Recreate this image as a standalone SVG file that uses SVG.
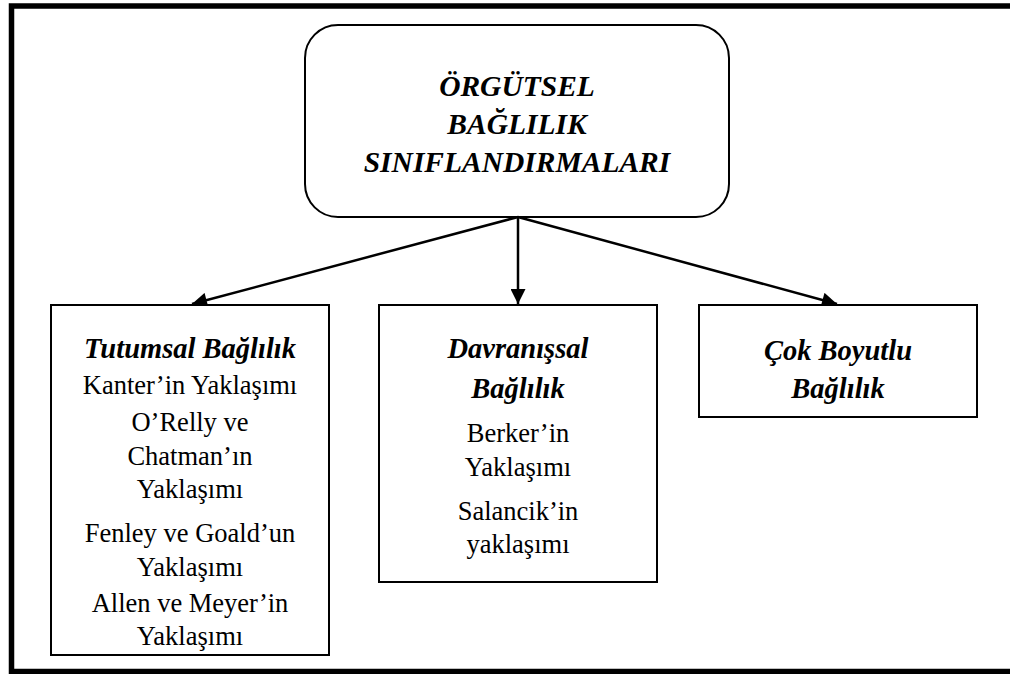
<svg xmlns="http://www.w3.org/2000/svg" width="1010" height="674" viewBox="0 0 1010 674">
<style>
.box{fill:#fff;stroke:#000;stroke-width:2}
.h{font-family:"Liberation Serif","Times New Roman",serif;font-weight:bold;font-style:italic;text-anchor:middle;fill:#000}
.t{font-family:"Liberation Serif","Times New Roman",serif;font-size:26.5px;text-anchor:middle;fill:#000}
.c{stroke:#000;stroke-width:2.5;fill:none}
</style>
<defs>
<marker id="ah" viewBox="0 0 10 10" refX="10" refY="5" markerWidth="7" markerHeight="6" markerUnits="strokeWidth" orient="auto">
<path d="M0 0 L10 5 L0 10 Z" fill="#000"/>
</marker>
</defs>
<rect x="0" y="0" width="1010" height="674" fill="#fff"/>
<path d="M1015 6 H11.5 V671.5 H1015" fill="none" stroke="#000" stroke-width="5.5"/>
<g id="root">
<rect class="box" x="305" y="25" width="424" height="192" rx="33" ry="33"/>
<text class="h" font-size="29.5" x="517" y="96">ÖRGÜTSEL</text>
<text class="h" font-size="29.5" x="517" y="134">BAĞLILIK</text>
<text class="h" font-size="29.5" x="517" y="172">SINIFLANDIRMALARI</text>
</g>
<g id="connectors">
<line class="c" x1="518" y1="217" x2="192" y2="304" marker-end="url(#ah)"/>
<line class="c" x1="518" y1="217" x2="518" y2="304" marker-end="url(#ah)"/>
<line class="c" x1="518" y1="217" x2="837" y2="304" marker-end="url(#ah)"/>
</g>
<g id="tutumsal">
<rect class="box" x="51" y="305" width="278" height="350"/>
<text class="h" font-size="28.5" x="190" y="358">Tutumsal Bağlılık</text>
<text class="t" x="190" y="394">Kanter’in Yaklaşımı</text>
<text class="t" x="190" y="431">O’Relly ve</text>
<text class="t" x="190" y="465">Chatman’ın</text>
<text class="t" x="190" y="498">Yaklaşımı</text>
<text class="t" x="190" y="542">Fenley ve Goald’un</text>
<text class="t" x="190" y="576">Yaklaşımı</text>
<text class="t" x="190" y="612">Allen ve Meyer’in</text>
<text class="t" x="190" y="645">Yaklaşımı</text>
</g>
<g id="davranissal">
<rect class="box" x="379" y="305" width="278" height="277"/>
<text class="h" font-size="28.5" x="518" y="358">Davranışsal</text>
<text class="h" font-size="28.5" x="518" y="398">Bağlılık</text>
<text class="t" x="518" y="442">Berker’in</text>
<text class="t" x="518" y="476">Yaklaşımı</text>
<text class="t" x="518" y="520">Salancik’in</text>
<text class="t" x="518" y="553">yaklaşımı</text>
</g>
<g id="cokboyutlu">
<rect class="box" x="699" y="305" width="278" height="112"/>
<text class="h" font-size="28.5" x="838" y="360">Çok Boyutlu</text>
<text class="h" font-size="28.5" x="838" y="398">Bağlılık</text>
</g>
</svg>
